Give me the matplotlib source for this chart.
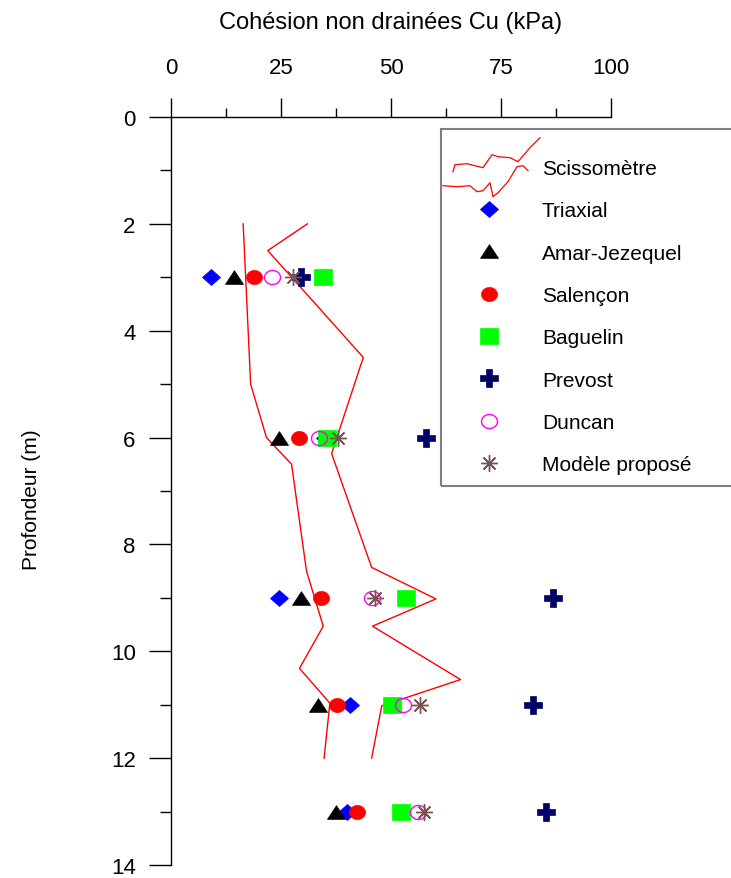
import matplotlib
matplotlib.use('Agg')
import numpy as np
import matplotlib.pyplot as plt
from matplotlib.path import Path
from matplotlib.legend_handler import HandlerBase
from matplotlib.lines import Line2D
from matplotlib.patches import Rectangle
from matplotlib.ticker import MultipleLocator

plt.rcParams['font.family'] = ['Liberation Sans', 'DejaVu Sans']

# ---------------- data ----------------
depths = [3, 6, 9, 11, 13]
triaxial = [9.0, 35.0, 24.5, 40.7, 39.9]
amar = [14.3, 24.6, 29.5, 33.3, 37.5]
salencon = [18.9, 29.1, 34.0, 37.8, 42.2]
baguelin = [34.5, 35.4, 53.3, 50.3, 52.2]
prevost = [29.5, 58.0, 86.9, 82.2, 85.2]
duncan = [22.9, 33.6, 45.6, 52.8, 56.2]
modele = [27.7, 38.0, 46.4, 56.7, 57.6]

sc_left_cu = [16.4, 18.1, 21.7, 27.4, 30.8, 34.6, 29.2, 36.1, 34.8]
sc_left_z = [2.0, 5.0, 6.0, 6.5, 8.5, 9.53, 10.32, 10.97, 12.0]
sc_right_cu = [31.0, 22.0, 43.7, 36.5, 45.6, 60.2, 45.8, 65.8, 47.9, 45.6]
sc_right_z = [2.0, 2.5, 4.5, 6.3, 8.43, 9.02, 9.53, 10.53, 11.02, 12.0]

labels = ['Scissomètre', 'Triaxial', 'Amar-Jezequel', 'Salençon', 'Baguelin',
          'Prevost', 'Duncan', 'Modèle proposé']
xticks = [0, 25, 50, 75, 100]
yticks = [0, 2, 4, 6, 8, 10, 12, 14]

# ---------------- markers ----------------
def ellipse(ry):
    t = np.linspace(0, 2 * np.pi, 61)
    return Path(np.column_stack([np.cos(t), ry * np.sin(t)]), closed=True)

m_diamond = Path([(0, -0.89), (1, 0), (0, 0.89), (-1, 0), (0, -0.89)], closed=True)
m_tri = Path([(-1, -0.76), (1, -0.76), (0, 0.76), (-1, -0.76)], closed=True)
m_rect = Path([(-1, -0.84), (1, -0.84), (1, 0.84), (-1, 0.84), (-1, -0.84)], closed=True)
m_circ = ellipse(0.88)

fig = plt.figure(figsize=(7.31, 8.79), dpi=100)
ax = fig.add_axes([171 / 731, 1 - 866 / 879, 440 / 731, 748 / 879])

sc_l, = ax.plot(sc_left_cu, sc_left_z, color='#ff0000', lw=1.0)
ax.plot(sc_right_cu, sc_right_z, color='#ff0000', lw=1.0)

kw = dict(linestyle='none', clip_on=False)
h_tri = ax.plot(triaxial, depths, marker=m_diamond, ms=13, mfc='#0000ff', mec='#0000ff', mew=0.5, **kw)[0]
h_amar = ax.plot(amar, depths, marker=m_tri, ms=13, mfc='black', mec='black', mew=0.5, **kw)[0]
h_sal = ax.plot(salencon, depths, marker=m_circ, ms=11.5, mfc='#ff0000', mec='#ff0000', mew=0.5, **kw)[0]
h_bag = ax.plot(baguelin, depths, marker=m_rect, ms=13.5, mfc='#00ff00', mec='#00ff00', mew=0.5, **kw)[0]
h_pre = ax.plot(prevost, depths, marker='P', ms=13, mfc='#000066', mec='#000066', mew=0.5, **kw)[0]
h_dun = ax.plot(duncan, depths, marker=m_circ, ms=11.5, mfc='none', mec='#ff00ff', mew=1.0, **kw)[0]
h_mod = ax.plot(modele, depths, marker=(8, 2, 0), ms=12, mfc='#7a5252', mec='#7a5252', mew=1.0, **kw)[0]

ax.set_xlim(0, 100)
ax.set_ylim(14, 0)
ax.set_xticks(xticks)
ax.set_yticks(yticks)
ax.xaxis.set_minor_locator(MultipleLocator(12.5))
ax.yaxis.set_minor_locator(MultipleLocator(1))
ax.xaxis.tick_top()
for s in ('bottom', 'right'):
    ax.spines[s].set_visible(False)
for s in ('top', 'left'):
    ax.spines[s].set_linewidth(1.0)
    ax.spines[s].set_color('black')

ax.tick_params(axis='x', which='major', direction='out', length=13.7, width=1.0,
               pad=14.5, labelsize=16, colors='black')
ax.tick_params(axis='x', which='minor', direction='out', length=6.8, width=1.0)
ax.tick_params(axis='y', which='major', direction='out', length=16, width=1.0,
               pad=9.4, labelsize=16, colors='black')
ax.tick_params(axis='y', which='minor', direction='out', length=8, width=1.0)

ax.xaxis.set_label_position('top')
ax.set_xlabel('Cohésion non drainées Cu (kPa)', fontsize=17)
ax.xaxis.set_label_coords(0.5, (866 - 29) / 748)
ax.set_ylabel('Profondeur (m)', fontsize=15)
ax.yaxis.set_label_coords((41 - 171) / 440, (866 - 500) / 748)

# ---------------- legend ----------------
SQ_UP = [(-36, 5), (-34, -2), (-22, -3), (-6, 1), (3, -12), (9, -10), (21, -9),
         (29, -5), (41, -19), (51, -29)]
SQ_LOW = [(-46, 19), (-32, 20), (-19, 19), (-12, 25), (-6, 24), (1, 16), (4, 30),
          (9, 26), (19, 15), (28, 0), (34, -1), (39, 4)]


class SquiggleHandler(HandlerBase):
    def create_artists(self, legend, orig_handle, xdescent, ydescent, width,
                       height, fontsize, trans):
        cx = -xdescent + width / 2.0
        cy = -ydescent + height / 2.0
        arts = []
        for pts in (SQ_UP, SQ_LOW):
            p = np.array(pts, dtype=float) * 0.72
            ln = Line2D(cx + p[:, 0], cy - p[:, 1], color='#ff0000', lw=0.9)
            ln.set_transform(trans)
            arts.append(ln)
        return arts


handles = [sc_l, h_tri, h_amar, h_sal, h_bag, h_pre, h_dun, h_mod]
leg = ax.legend(handles, labels, loc='upper left',
                bbox_to_anchor=(444 / 731, 1 - 160 / 879),
                bbox_transform=fig.transFigure, frameon=False, fontsize=15,
                borderpad=0, borderaxespad=0, handlelength=4.32,
                handletextpad=0.38, labelspacing=1.12, numpoints=1,
                handler_map={sc_l: SquiggleHandler()})

frame = Rectangle((441 / 731, 1 - 487 / 879), 0.5, 357 / 879,
                  transform=fig.transFigure, fill=False, ec='#7f7f7f', lw=1.5,
                  clip_on=False)
fig.add_artist(frame)

fig.savefig('out.png', dpi=100)
